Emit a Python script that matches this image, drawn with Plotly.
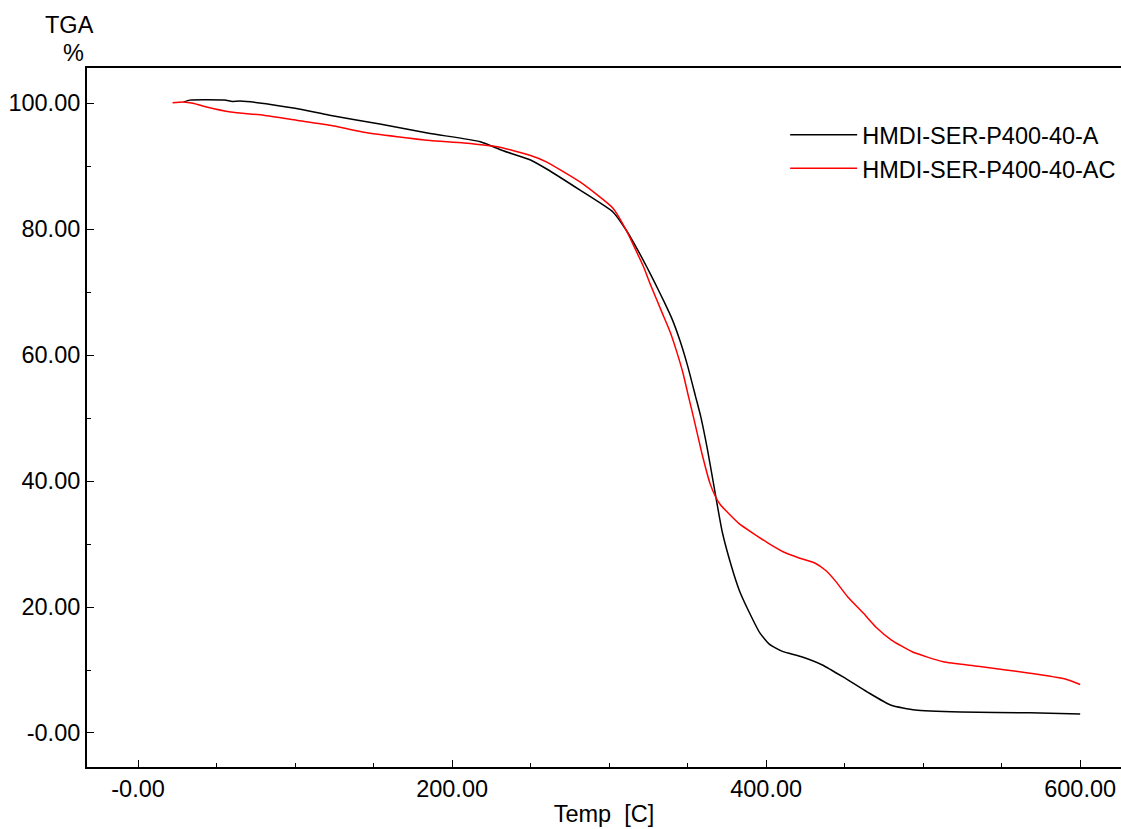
import plotly.graph_objects as go

# ---- data ----
temp_a = [29, 33, 55, 60, 65, 76, 100, 122, 154, 186, 218, 232, 250, 260, 281.5, 302.6, 311, 318, 324,
          329.3, 335, 340, 345, 350, 355, 358.4, 362.5, 366.5, 372, 378, 383, 389, 396, 402, 410, 422.6,
          435.8, 449, 464.5, 479.6, 495, 524, 568, 600]
tga_a = [100.2, 100.5, 100.5, 100.3, 100.35, 100.1, 99.2, 98.1, 96.7, 95.2, 93.9, 92.5, 91.0, 89.6, 86.2,
         82.7, 79.8, 76.8, 74.0, 71.4, 68.5, 65.8, 62.4, 58.3, 53.5, 50.2, 45.2, 39.6, 32.0, 26.4, 22.6,
         19.3, 15.9, 14.1, 13.0, 12.1, 10.8, 8.9, 6.5, 4.4, 3.65, 3.35, 3.2, 3.0]

temp_ac = [22, 29, 35, 43.7, 59, 80, 101, 122.5, 143.7, 165, 186, 207.6, 229, 250, 260, 281.5, 302.6, 311,
           316, 322, 326, 334, 339, 343, 347, 350.5, 353.7, 359, 364.3, 368, 371, 376, 383, 391.7, 401,
           411.5, 421, 431, 438, 444.6, 452, 462, 470, 479.6, 493, 512.8, 535, 568, 590, 600]
tga_ac = [100.1, 100.2, 100.0, 99.4, 98.6, 98.1, 97.3, 96.5, 95.4, 94.7, 94.1, 93.7, 93.1, 91.7, 90.7,
          87.5, 83.3, 79.8, 77.2, 74.0, 71.4, 66.6, 63.6, 60.6, 57.2, 53.5, 50.2, 44.5, 39.6, 37.4, 36.2,
          34.9, 33.2, 31.7, 30.2, 28.7, 27.8, 27.0, 25.8, 24.0, 21.6, 19.0, 16.8, 14.8, 12.9, 11.3, 10.6,
          9.5, 8.6, 7.7]

x_ticks = [0, 200, 400, 600]
x_ticktext = ["-0.00", "200.00", "400.00", "600.00"]
y_ticks = [0, 20, 40, 60, 80, 100]
y_ticktext = ["-0.00", "20.00", "40.00", "60.00", "80.00", "100.00"]

FONT = "Liberation Sans, Arial, sans-serif"
FS = 23.5

fig = go.Figure()
fig.add_trace(go.Scatter(x=temp_a, y=tga_a, mode="lines", name="HMDI-SER-P400-40-A",
                         line=dict(color="black", width=1.5, shape="spline", smoothing=0.5)))
fig.add_trace(go.Scatter(x=temp_ac, y=tga_ac, mode="lines", name="HMDI-SER-P400-40-AC",
                         line=dict(color="#ff0000", width=1.5, shape="spline", smoothing=0.5)))

fig.update_layout(
    width=1121, height=829,
    margin=dict(l=87, r=0, t=68, b=62, autoexpand=False),
    paper_bgcolor="white", plot_bgcolor="white",
    font=dict(family=FONT, size=FS, color="black"),
    showlegend=True,
    legend=dict(x=0.6752, y=0.9356, xanchor="left", yanchor="top",
                bgcolor="rgba(0,0,0,0)", font=dict(size=FS), itemwidth=67,
                tracegroupgap=0),
    xaxis=dict(range=[-32.5, 626], showgrid=False, zeroline=False, automargin=False,
               showline=True, linecolor="black", linewidth=2, mirror=True,
               tickmode="array", tickvals=x_ticks, ticktext=x_ticktext,
               ticks="inside", ticklen=7, tickwidth=1, tickcolor="black",
               minor=dict(dtick=50, ticks="inside", ticklen=4, tickwidth=1, tickcolor="black"),
               tickfont=dict(size=FS),
               title=dict(text="Temp  [C]", font=dict(size=FS), standoff=4)),
    yaxis=dict(range=[-5.4, 105.6], showgrid=False, zeroline=False, automargin=False,
               showline=True, linecolor="black", linewidth=2, mirror=False,
               tickmode="array", tickvals=y_ticks, ticktext=y_ticktext,
               ticks="inside", ticklen=7, tickwidth=1, tickcolor="black",
               minor=dict(dtick=10, ticks="inside", ticklen=4, tickwidth=1, tickcolor="black"),
               tickfont=dict(size=FS)),
)

fig.add_annotation(text="TGA", xref="paper", yref="paper", x=-0.0174, y=1.0, yshift=43,
                   showarrow=False, xanchor="center", yanchor="middle", font=dict(size=FS))
fig.add_annotation(text="%", xref="paper", yref="paper", x=-0.0135, y=1.0, yshift=15,
                   showarrow=False, xanchor="center", yanchor="middle", font=dict(size=FS))

fig.write_html("out.html")
